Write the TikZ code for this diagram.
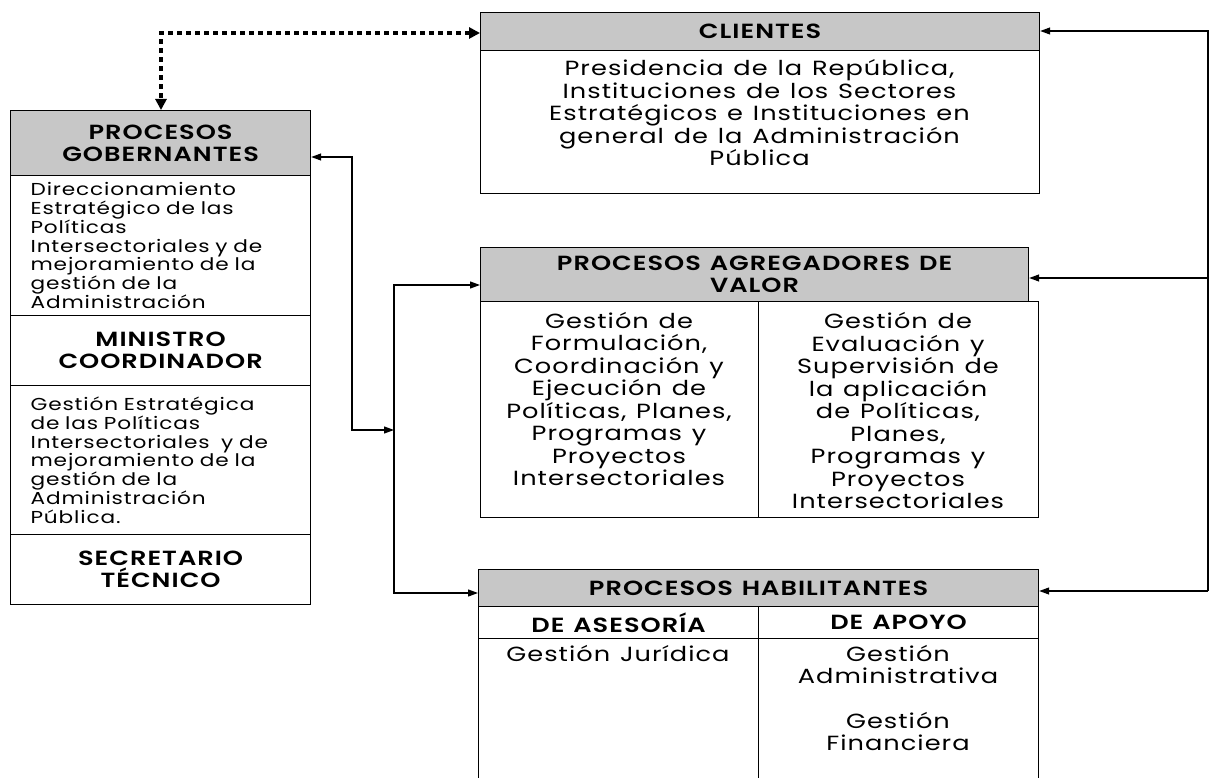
\documentclass[tikz,border=0pt]{standalone}
\usepackage{fontspec}
\setmainfont{Poppins}[FakeStretch=1.25, LetterSpace=5, WordSpace=1.25, BoldFont={Poppins SemiBold}]
\usetikzlibrary{arrows.meta}
\tikzset{
  box/.style={draw, line width=1.2pt, inner sep=0pt, anchor=north west},
  hdr/.style={box, fill=black!22, align=center, font=\fontsize{20.5}{22}\selectfont\bfseries},
  subhdr/.style={box, align=center, font=\fontsize{20.5}{22}\selectfont\bfseries},
  lefttxt/.style={box, align=left, text width=260pt, inner xsep=20pt, font=\fontsize{17.3}{18.8}\selectfont},
  ctxt/.style={align=center, inner sep=0pt, font=\fontsize{20.5}{22.5}\selectfont},
  conn/.style={line width=1.2pt},
  arr/.style={conn, -{Triangle[length=10pt,width=7pt]}},
  darr/.style={conn, {Triangle[length=10pt,width=7pt]}-{Triangle[length=10pt,width=7pt]}},
  dotline/.style={line width=3.5pt, dash pattern=on 5pt off 4pt,
    {Triangle[length=11pt,width=11pt]}-{Triangle[length=11pt,width=11pt]}}
}
\begin{document}
\begin{tikzpicture}[x=1pt,y=-1pt]
\useasboundingbox (0,0) rectangle (1211,778);
\fill[white] (0,0) rectangle (1211,778);
\clip (0,0) rectangle (1211,778);

% Procesos gobernantes
\node[hdr, minimum width=300, minimum height=65] (gobH) at (10,110) {PROCESOS\\GOBERNANTES};
\node[lefttxt, minimum width=300, minimum height=140] (gob1) at (10,175)
  {Direccionamiento\\Estratégico de las\\Políticas\\Intersectoriales y de\\mejoramiento de la\\gestión de la\\Administración};
\node[subhdr, minimum width=300, minimum height=70] (gob2) at (10,315) {MINISTRO\\COORDINADOR};
\node[lefttxt, minimum width=300, minimum height=149] (gob3) at (10,385)
  {Gestión Estratégica\\de las Políticas\\Intersectoriales\ \ y de\\mejoramiento de la\\gestión de la\\Administración\\Pública.};
\node[subhdr, minimum width=300, minimum height=70] (gob4) at (10,534) {SECRETARIO\\TÉCNICO};

% Clientes
\node[hdr, minimum width=559, minimum height=38] (cliH) at (480,12) {CLIENTES};
\node[box, minimum width=559, minimum height=143] (cliB) at (480,50) {};
\node[ctxt] (cliT) at (759.5,113)
  {Presidencia de la República,\\Instituciones de los Sectores\\Estratégicos e Instituciones en\\general de la Administración\\Pública};

% Procesos agregadores de valor
\node[hdr, minimum width=548, minimum height=54] (agrH) at (480,247) {PROCESOS AGREGADORES DE\\VALOR};
\node[box, minimum width=278, minimum height=216] (agrL) at (480,301) {};
\node[box, minimum width=280, minimum height=216] (agrR) at (758,301) {};
\node[ctxt] (agrLT) at (619,399)
  {Gestión de\\Formulación,\\Coordinación y\\Ejecución de\\Políticas, Planes,\\Programas y\\Proyectos\\Intersectoriales};
\node[ctxt] (agrRT) at (898,411)
  {Gestión de\\Evaluación y\\Supervisión de\\la aplicación\\de Políticas,\\Planes,\\Programas y\\Proyectos\\Intersectoriales};

% Procesos habilitantes
\node[hdr, minimum width=560, minimum height=37] (habH) at (478,569) {PROCESOS HABILITANTES};
\node[subhdr, minimum width=280, minimum height=32] (habA) at (478,606) {DE ASESORÍA};
\node[subhdr, minimum width=280, minimum height=32] (habP) at (758,606) {DE APOYO};
\node[box, minimum width=280, minimum height=170] (habAB) at (478,638) {};
\node[box, minimum width=280, minimum height=170] (habPB) at (758,638) {};
\node[ctxt, anchor=north] (habAT) at (618,645) {Gestión Jurídica};
\node[ctxt, anchor=north] (habPT) at (898,645) {Gestión\\Administrativa\\[22pt]Gestión\\Financiera};

% Connectors
\coordinate (d1) at (161,33);
\draw[dotline] (cliH.west |- d1) -- (d1) -- (gobH.north -| d1);

\coordinate (l1) at (352,157);
\coordinate (l2) at (352,430);
\coordinate (v1) at (394,285);
\coordinate (v2) at (394,593);
\coordinate (v3) at (394,430);
\draw[darr] (gobH.east |- l1) -- (l1) -- (l2) -- (v3);
\draw[darr] (agrH.west |- v1) -- (v1) -- (v2) -- (habH.west |- v2);

\coordinate (r1) at (1208,31);
\coordinate (r2) at (1208,278);
\coordinate (r3) at (1208,591);
\draw[arr] (r3) -- (r1) -- (cliH.east |- r1);
\draw[arr] (r2) -- (agrH.east |- r2);
\draw[arr] (r3) -- (habH.east |- r3);
\end{tikzpicture}
\end{document}
